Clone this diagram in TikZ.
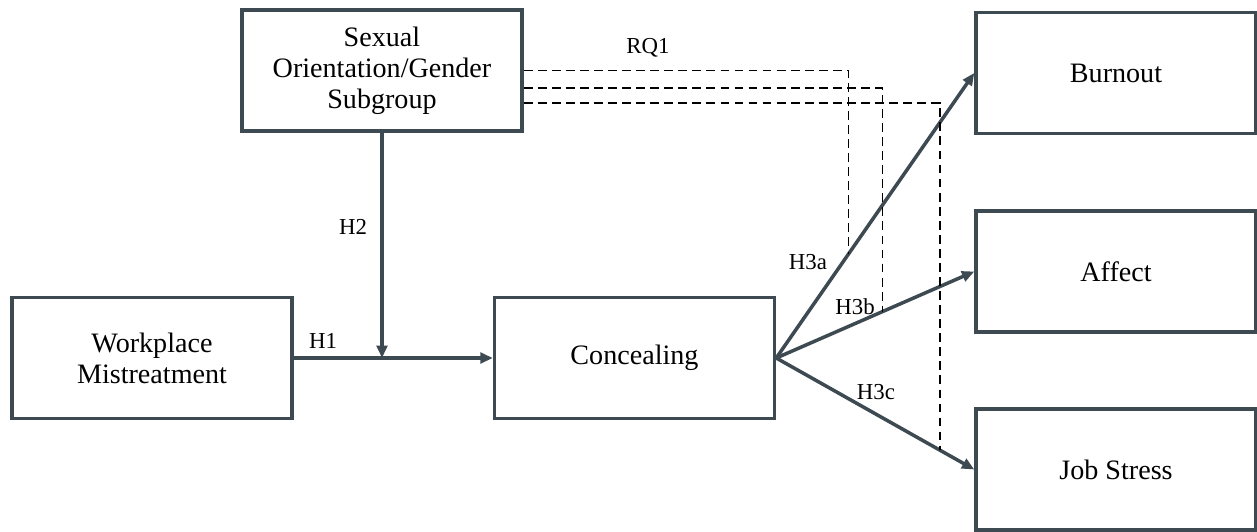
\documentclass[tikz,border=0pt]{standalone}
\usepackage{fontspec}
\setmainfont{Liberation Serif}
\usetikzlibrary{arrows.meta,calc}
\definecolor{boxline}{HTML}{3E4A52}
\begin{document}
\begin{tikzpicture}[x=0.02cm,y=-0.02cm]

    \tikzset{
      varbox/.style={
        draw=boxline,
        line width=2pt,
        minimum width=5.6cm,
        minimum height=2.42cm,
        align=center,
        font=\fontsize{16}{17.6}\selectfont,
      },
      link/.style={
        draw=boxline,
        line width=2pt,
        -{Triangle[length=7pt,width=6pt]},
      },
      modline/.style={
        line width=0.7pt,
        dash pattern=on 5pt off 3pt,
      },
      hlabel/.style={
        inner sep=0pt,
        font=\fontsize{13}{15}\selectfont,
      },
    }
    \useasboundingbox (0,0) rectangle (1257,531);
	\node[varbox] (orient) at (382,70.5) {Sexual\\Orientation/Gender\\Subgroup};
	\node[varbox] (work) at (152,358) {Workplace\\Mistreatment};
	\node[varbox] (conceal) at (634.5,358) {Concealing};
	\node[varbox] (burn) at (1116,73) {Burnout};
	\node[varbox] (affect) at (1116,271.5) {Affect};
	\node[varbox] (stress) at (1116,469.5) {Job Stress};

	\draw[link] (work) -- (conceal);
	\draw[link] (orient.south) -- (orient.south |- work.east);
	\draw[link] (conceal.east) -- (burn.west);
	\draw[link] (conceal.east) -- (affect.west);
	\draw[link] (conceal.east) -- (stress.west);

	\coordinate (m1) at ($(conceal.east)!0.366!(burn.west)$);
	\coordinate (m2) at ($(conceal.east)!0.535!(affect.west)$);
	\coordinate (m3) at ($(conceal.east)!0.827!(stress.west)$);
	\draw[modline] (orient.east) -| (m1);
	\draw[modline] ([yshift=-0.35cm]orient.east) -| (m2);
	\draw[modline] ([yshift=-0.65cm]orient.east) -| (m3);

	\node[hlabel] (rq) at (648,48) {RQ1};
	\node[hlabel] (h1) at (323,341) {H1};
	\node[hlabel] (h2) at (353,227) {H2};
	\node[hlabel] (h3a) at (808,262) {H3a};
	\node[hlabel] (h3b) at (855,307) {H3b};
	\node[hlabel] (h3c) at (876,392) {H3c};

\end{tikzpicture}
\end{document}
